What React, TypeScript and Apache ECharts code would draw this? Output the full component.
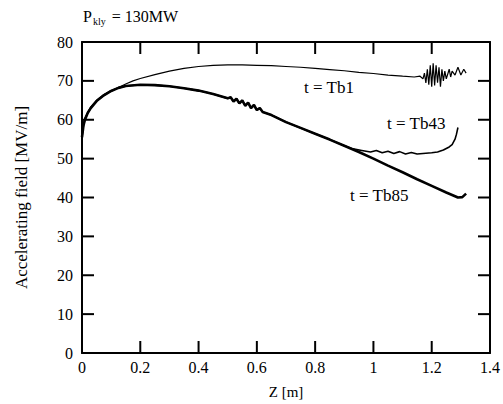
import React, { useEffect, useRef } from "react";
import * as echarts from "echarts";

const xTicks = [0, 0.2, 0.4, 0.6, 0.8, 1, 1.2, 1.4];
const yTicks = [0, 10, 20, 30, 40, 50, 60, 70, 80];

const tb1: [number, number][] = [
  [0, 56], [0.005, 59], [0.01, 60.5], [0.02, 62], [0.03, 63.3], [0.05, 65], [0.075, 66.5],
  [0.1, 67.5], [0.125, 68.3], [0.15, 69.2], [0.175, 70], [0.2, 70.6], [0.25, 71.6], [0.3, 72.5],
  [0.35, 73.2], [0.4, 73.7], [0.45, 74], [0.5, 74.1], [0.55, 74.1], [0.6, 74], [0.65, 73.9],
  [0.7, 73.7], [0.75, 73.5], [0.8, 73.2], [0.85, 72.9], [0.9, 72.6], [0.95, 72.2], [1.0, 71.9],
  [1.05, 71.5], [1.1, 71.2], [1.14, 71], [1.16, 71.2], [1.17, 70.5], [1.175, 72], [1.18, 69.5],
  [1.185, 73], [1.19, 69], [1.195, 74], [1.2, 68.5], [1.205, 74.5], [1.21, 68.8], [1.215, 74],
  [1.22, 69.5], [1.225, 73.5], [1.23, 68.5], [1.235, 73], [1.24, 70], [1.245, 72.5], [1.25, 70.5],
  [1.26, 73], [1.265, 71], [1.27, 72.5], [1.28, 71.5], [1.29, 73.5], [1.3, 71.5], [1.31, 73], [1.318, 72],
];

const tb85: [number, number][] = [
  [0, 55.5], [0.005, 58.5], [0.01, 60], [0.02, 61.8], [0.03, 63], [0.05, 64.8], [0.075, 66.3],
  [0.1, 67.4], [0.125, 68.2], [0.15, 68.7], [0.2, 69], [0.25, 68.9], [0.3, 68.6], [0.35, 68.1],
  [0.4, 67.5], [0.45, 66.6], [0.5, 65.5], [0.51, 65.8], [0.52, 64.7], [0.53, 65.4], [0.54, 64.2],
  [0.55, 65], [0.56, 63.6], [0.57, 64.4], [0.58, 63], [0.59, 63.8], [0.6, 62.5], [0.61, 63],
  [0.62, 62], [0.65, 61.2], [0.7, 59.4], [0.75, 57.9], [0.8, 56.4], [0.85, 54.9], [0.9, 53.3],
  [0.95, 51.7], [1.0, 50], [1.05, 48.2], [1.1, 46.5], [1.15, 44.7], [1.2, 43], [1.25, 41.3],
  [1.29, 40], [1.305, 40.1], [1.318, 41],
];

const tb43: [number, number][] = [
  [0, 55.5], [0.005, 58.5], [0.01, 60], [0.02, 61.8], [0.03, 63], [0.05, 64.8], [0.075, 66.3],
  [0.1, 67.4], [0.125, 68.2], [0.15, 68.7], [0.2, 69], [0.25, 68.9], [0.3, 68.6], [0.35, 68.1],
  [0.4, 67.5], [0.45, 66.6], [0.5, 65.5], [0.51, 65.8], [0.52, 64.7], [0.53, 65.4], [0.54, 64.2],
  [0.55, 65], [0.56, 63.6], [0.57, 64.4], [0.58, 63], [0.59, 63.8], [0.6, 62.5], [0.61, 63],
  [0.62, 62], [0.65, 61.2], [0.7, 59.4], [0.75, 57.9], [0.8, 56.4], [0.85, 54.9], [0.9, 53.3],
  [0.93, 52.5], [0.96, 52.1], [0.99, 51.7], [1.01, 52.1], [1.03, 51.5], [1.05, 51.9], [1.07, 51.3],
  [1.09, 51.8], [1.11, 51.2], [1.13, 51.6], [1.15, 51.2], [1.18, 51.4], [1.2, 51.5], [1.22, 51.7],
  [1.24, 52.2], [1.26, 53], [1.27, 53.6], [1.28, 55], [1.285, 56.3], [1.29, 58],
];

const seriesNames = ["t = Tb1", "t = Tb43", "t = Tb85"];

export default function App() {
  const ref = useRef<HTMLDivElement>(null);
  useEffect(() => {
    if (!ref.current) return;
    const chart = echarts.init(ref.current, undefined, { renderer: "svg" });
    const font = "Liberation Serif";
    const TL = 12;
    const xMin = xTicks[0], xMax = xTicks[xTicks.length - 1];
    const yMin = yTicks[0], yMax = yTicks[yTicks.length - 1];
    const mkLine = () => ({ show: true, onZero: false, lineStyle: { color: "#000", width: 2 } });
    const texts: any[] = [
      {
        type: "text", left: 83, top: 8,
        style: {
          text: "{p|P}{s|kly}{p| = 130MW}",
          rich: {
            p: { fontFamily: font, fontSize: 16, fill: "#000" },
            s: { fontFamily: font, fontSize: 10, fill: "#000", verticalAlign: "bottom", padding: [10, 2, 0, 1] },
          },
        },
      },
      { type: "text", left: 304, top: 79, style: { text: seriesNames[0], fontFamily: font, fontSize: 17, fill: "#000" } },
      { type: "text", left: 387, top: 115, style: { text: seriesNames[1], fontFamily: font, fontSize: 17, fill: "#000" } },
      { type: "text", left: 350, top: 187, style: { text: seriesNames[2], fontFamily: font, fontSize: 17, fill: "#000" } },
    ];
    chart.setOption({
      animation: false,
      grid: { left: 82, right: 9, top: 42, bottom: 50 },
      xAxis: [
        {
          type: "value", min: xMin, max: xMax, interval: 0.2, position: "bottom",
          axisLine: mkLine(), axisTick: { show: false }, splitLine: { show: false },
          name: "Z [m]", nameLocation: "middle", nameGap: 31,
          nameTextStyle: { fontFamily: font, fontSize: 15, color: "#000" },
          axisLabel: { fontFamily: font, fontSize: 16, color: "#000", margin: 6 },
        },
        {
          type: "value", min: xMin, max: xMax, interval: 0.2, position: "top",
          axisLine: mkLine(), axisTick: { show: false }, splitLine: { show: false }, axisLabel: { show: false },
        },
      ],
      yAxis: [
        {
          type: "value", min: yMin, max: yMax, interval: 10, position: "left",
          axisLine: mkLine(), axisTick: { show: false }, splitLine: { show: false },
          name: "Accelerating field [MV/m]", nameLocation: "middle", nameGap: 52,
          nameTextStyle: { fontFamily: font, fontSize: 17, color: "#000" },
          axisLabel: { fontFamily: font, fontSize: 16, color: "#000", margin: 9 },
        },
        {
          type: "value", min: yMin, max: yMax, interval: 10, position: "right",
          axisLine: mkLine(), axisTick: { show: false }, splitLine: { show: false }, axisLabel: { show: false },
        },
      ],
      series: [
        { name: seriesNames[0], type: "line", data: tb1, showSymbol: false, lineStyle: { color: "#000", width: 1.2 } },
        { name: seriesNames[1], type: "line", data: tb43, showSymbol: false, lineStyle: { color: "#000", width: 1.6 } },
        { name: seriesNames[2], type: "line", data: tb85, showSymbol: false, lineStyle: { color: "#000", width: 2.6 } },
      ],
      graphic: texts,
    });
    // tick marks on all four sides, placed through the axes' own scales
    const finder = { xAxisIndex: 0, yAxisIndex: 0 };
    const ticks: any[] = [];
    const st = { stroke: "#000", lineWidth: 2 };
    xTicks.slice(1, -1).forEach((v) => {
      const b = chart.convertToPixel(finder, [v, yMin]) as number[];
      const t = chart.convertToPixel(finder, [v, yMax]) as number[];
      ticks.push({ type: "line", z: 100, shape: { x1: b[0], y1: b[1], x2: b[0], y2: b[1] - TL }, style: st });
      ticks.push({ type: "line", z: 100, shape: { x1: t[0], y1: t[1], x2: t[0], y2: t[1] + TL }, style: st });
    });
    yTicks.slice(1, -1).forEach((v) => {
      const l = chart.convertToPixel(finder, [xMin, v]) as number[];
      const r = chart.convertToPixel(finder, [xMax, v]) as number[];
      ticks.push({ type: "line", z: 100, shape: { x1: l[0], y1: l[1], x2: l[0] + TL, y2: l[1] }, style: st });
      ticks.push({ type: "line", z: 100, shape: { x1: r[0], y1: r[1], x2: r[0] - TL, y2: r[1] }, style: st });
    });
    chart.setOption({ graphic: [...texts, ...ticks] });
    return () => chart.dispose();
  }, []);
  return <div ref={ref} style={{ width: 503, height: 404, background: "#fff", position: "absolute", left: 0, top: 0 }} />;
}
